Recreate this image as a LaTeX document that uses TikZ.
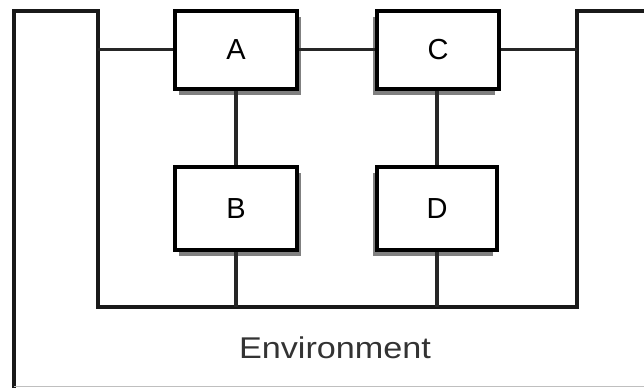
\documentclass[tikz,border=0pt]{standalone}
\usepackage{fontspec}
\setmainfont{Liberation Sans}
\usetikzlibrary{shadows}
\begin{document}
\begin{tikzpicture}[x=1pt,y=-1pt,
  block/.style={draw=black, line width=4pt, fill=white, minimum width=122pt,
    minimum height=78pt, inner sep=0pt, font=\fontsize{29}{30}\selectfont},
  shadowR/.style={drop shadow={shadow xshift=4pt, shadow yshift=-6pt, fill=black!50, opacity=1}},
  shadowL/.style={drop shadow={shadow xshift=-4pt, shadow yshift=-6pt, fill=black!50, opacity=1}},
  wire/.style={draw=black!85, line width=3.8pt},
  envline/.style={draw=black!90, line width=4pt, line join=miter}]
\useasboundingbox (0,0) rectangle (644,388);

% environment outline
\coordinate (eBL) at (14,388);
\coordinate (eTL) at (14,11);
\coordinate (eIL) at (98,11);
\coordinate (eLB) at (98,307);
\coordinate (eRB) at (577,307);
\coordinate (eIR) at (577,11);
\coordinate (eTR) at (646,11);
\draw[envline] (eBL) -- (eTL) -- (eIL) -- (eLB) -- (eRB) -- (eIR) -- (eTR);
\draw[black!25, line width=1pt] (14,386.5) -- (644,386.5);

% blocks
\node[block, shadowR] (A) at (236,49.5) {A};
\node[block, shadowL] (C) at (438,49.5) {C};
\node[block, shadowR, minimum height=83pt] (B) at (236,208.5) {B};
\node[block, shadowL, minimum height=83pt, minimum width=120pt] (D) at (437,208.5) {D};

% side attachment points
\coordinate (pL) at (98,49.5);
\coordinate (pR) at (577,49.5);

% connectors
\draw[wire] (pL) -- (A.west);
\draw[wire] (A.east) -- (C.west);
\draw[wire] (C.east) -- (pR);
\draw[wire] (A.south) -- (B.north);
\draw[wire] ([xshift=-1pt]C.south) -- ([xshift=-1pt]C.south |- D.north);
\draw[wire] (B.south) -- (B.south |- eLB);
\draw[wire] (D.south) -- (D.south |- eLB);

% label
\node[font=\fontsize{30}{32}\selectfont, xscale=1.14, text=black!80] (env) at (335,348) {Environment};
\end{tikzpicture}
\end{document}
